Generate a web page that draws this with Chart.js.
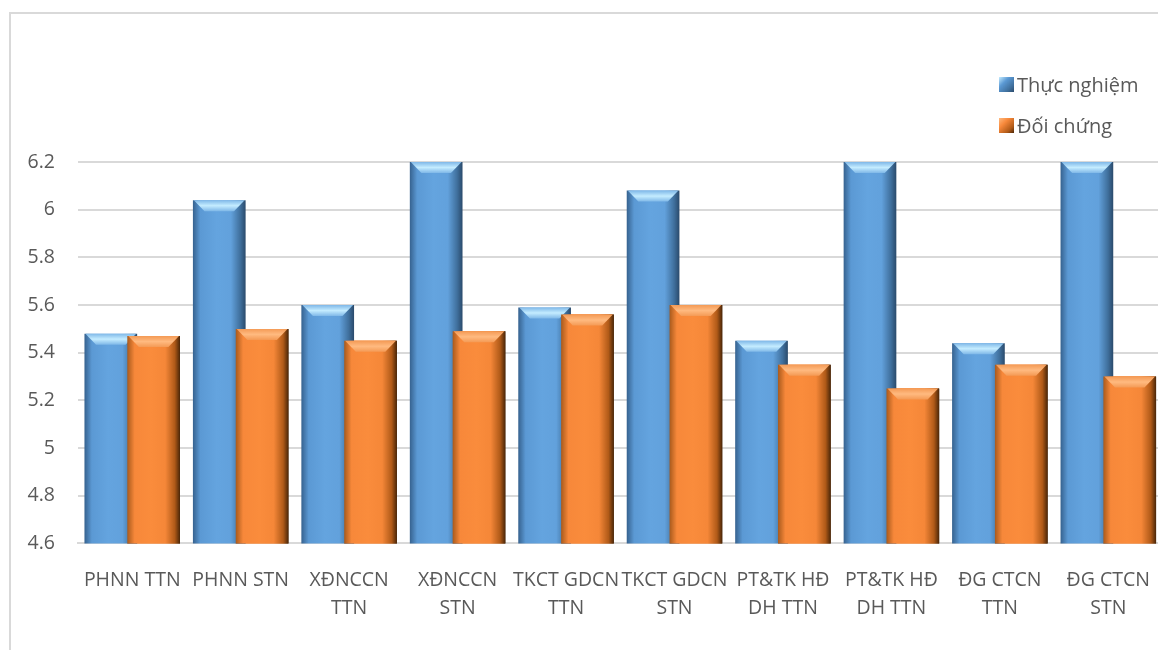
<!DOCTYPE html>
<html>
<head>
<meta charset="utf-8">
<script src="https://cdn.jsdelivr.net/npm/chart.js@4/dist/chart.umd.min.js"></script>
<style>
  html, body { margin: 0; padding: 0; background: #fff; overflow: hidden; }
  #frame {
    position: absolute; left: 9px; top: 12px; width: 1160px; height: 650px;
    border-left: 2px solid #d9d9d9; border-top: 2px solid #d9d9d9;
  }
  #wrap { position: absolute; left: 2px; top: 0; width: 1152px; height: 636px; }
  #legend {
    position: absolute; left: 988px; top: 50px;
    font-family: "Open Sans", sans-serif; font-size: 20px; color: #595959;
  }
  .item { display: flex; align-items: center; height: 41px; }
  .swatch { width: 15px; height: 15px; margin-right: 3px; }
</style>
</head>
<body>
<div id="frame">
  <div id="wrap"><canvas id="chart"></canvas></div>
  <div id="legend"></div>
</div>
<script>
const categories = [
  ['PHNN TTN'], ['PHNN STN'], ['XĐNCCN', 'TTN'], ['XĐNCCN', 'STN'],
  ['TKCT GDCN', 'TTN'], ['TKCT GDCN', 'STN'], ['PT&TK HĐ', 'DH TTN'],
  ['PT&TK HĐ', 'DH TTN'], ['ĐG CTCN', 'TTN'], ['ĐG CTCN', 'STN']
];
const seriesNames = ['Thực nghiệm', 'Đối chứng'];
const thucNghiem = [5.48, 6.04, 5.60, 6.35, 5.59, 6.08, 5.45, 6.35, 5.44, 6.35];
const doiChung = [5.47, 5.50, 5.45, 5.49, 5.56, 5.60, 5.35, 5.25, 5.35, 5.30];
const yMin = 4.6;
const yMax = 6.2;
const yStep = 0.2;

const palettes = [
  { stops: ['#36628f', '#5b99d4', '#64a4df', '#62a1dc', '#3f6f9c', '#2a4a6b'], cap: '#c4ecff', capEdge: '#7fb8e8' },
  { stops: ['#a95a1c', '#f7883a', '#fa8c3c', '#f58738', '#b05a18', '#4a2608'], cap: '#ffba80', capEdge: '#f49a55' }
];

function barGradient(ctx, bar, palette) {
  const left = bar.x - bar.width / 2;
  const g = ctx.createLinearGradient(left, 0, left + bar.width, 0);
  const pos = [0, 0.14, 0.45, 0.72, 0.9, 1];
  palette.stops.forEach((c, i) => g.addColorStop(pos[i], c));
  return g;
}

function shadeBars(chart, index) {
  const meta = chart.getDatasetMeta(index);
  meta.data.forEach((bar) => {
    bar.options.backgroundColor = barGradient(chart.ctx, bar, palettes[index]);
  });
}

function paintCaps(chart, index) {
  const ctx = chart.ctx;
  const palette = palettes[index];
  const area = chart.chartArea;
  chart.getDatasetMeta(index).data.forEach((bar) => {
    const left = bar.x - bar.width / 2;
    const right = bar.x + bar.width / 2;
    const top = Math.max(bar.y, area.top);
    const h = 11;
    const inset = bar.width * 0.22;
    ctx.save();
    const g = ctx.createLinearGradient(0, top, 0, top + h);
    g.addColorStop(0, palette.capEdge);
    g.addColorStop(0.5, palette.cap);
    g.addColorStop(1, palette.capEdge);
    ctx.fillStyle = g;
    ctx.beginPath();
    ctx.moveTo(left + 1, top);
    ctx.lineTo(right - 1, top);
    ctx.lineTo(right - inset, top + h);
    ctx.lineTo(left + inset, top + h);
    ctx.closePath();
    ctx.fill();
    ctx.restore();
  });
}

// Chart.js paints dataset 0 last; the orange series must sit in front where bars overlap
const bevelPlugin = {
  id: 'bevel',
  beforeDatasetDraw(chart, args) {
    shadeBars(chart, args.index);
  },
  afterDatasetDraw(chart, args) {
    paintCaps(chart, args.index);
    if (args.index === 0) {
      const { ctx, chartArea: a } = chart;
      ctx.save();
      ctx.beginPath();
      ctx.rect(a.left, a.top, a.right - a.left, a.bottom - a.top);
      ctx.clip();
      shadeBars(chart, 1);
      chart.getDatasetMeta(1).controller.draw();
      paintCaps(chart, 1);
      ctx.restore();
    }
  }
};

const legend = document.getElementById('legend');
seriesNames.forEach((name, i) => {
  const row = document.createElement('div');
  row.className = 'item';
  const sw = document.createElement('span');
  sw.className = 'swatch';
  const s = palettes[i].stops;
  sw.style.background = `linear-gradient(135deg, ${palettes[i].cap} 0%, ${s[1]} 35%, ${s[4]} 75%, ${s[5]} 100%)`;
  row.appendChild(sw);
  row.appendChild(document.createTextNode(name));
  legend.appendChild(row);
});

const font = { family: '"Open Sans", sans-serif', size: 19.5 };

new Chart(document.getElementById('chart'), {
  type: 'bar',
  data: {
    labels: categories,
    datasets: [
      // scriptable colour so each bar keeps its own options object
      { label: seriesNames[0], data: thucNghiem, backgroundColor: () => palettes[0].stops[2] },
      { label: seriesNames[1], data: doiChung, backgroundColor: () => palettes[1].stops[2] }
    ]
  },
  options: {
    responsive: true,
    maintainAspectRatio: false,
    animation: false,
    categoryPercentage: 0.79,
    barPercentage: 1.23,
    layout: { padding: { top: 148, left: 0, right: 0, bottom: 12 } },
    plugins: {
      legend: { display: false },
      tooltip: { enabled: false }
    },
    scales: {
      x: {
        grid: { display: false },
        border: { color: '#d9d9d9', width: 2 },
        ticks: { color: '#595959', font: { ...font, lineHeight: 1.45 }, maxRotation: 0, autoSkip: false, padding: 15 }
      },
      y: {
        min: yMin,
        max: yMax,
        afterFit(scale) { scale.width = 65; },
        grid: { color: '#d9d9d9', lineWidth: 2, drawTicks: false },
        border: { display: false },
        ticks: {
          stepSize: yStep,
          color: '#595959',
          font,
          padding: 23,
          callback: (v) => String(Number(v.toFixed(1)))
        }
      }
    }
  },
  plugins: [bevelPlugin]
});
</script>
</body>
</html>
